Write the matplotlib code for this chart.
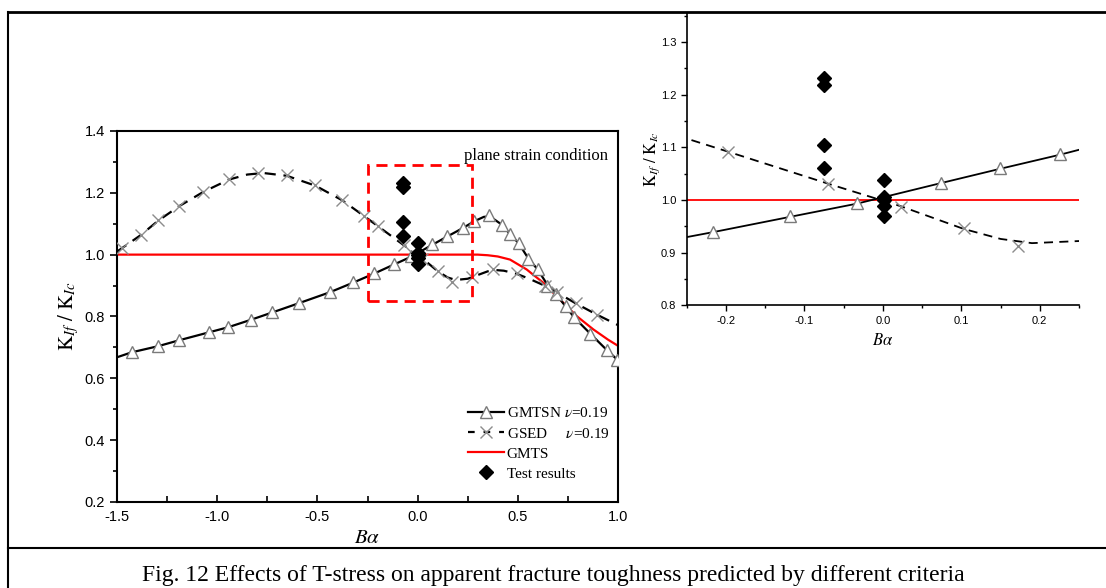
import matplotlib.pyplot as plt
from matplotlib.lines import Line2D
from matplotlib.patches import Rectangle
from matplotlib.ticker import MultipleLocator

plt.rcParams['mathtext.fontset'] = 'stix'
plt.rcParams['axes.unicode_minus'] = False

# GMTSN curve (solid) and its triangle markers
gmtsn_x = [-1.5, -1.427, -1.294, -1.19, -1.039, -0.946, -0.833, -0.725, -0.592, -0.439,
           -0.323, -0.216, -0.118, -0.033, 0.074, 0.149, 0.226, 0.283, 0.33, 0.36,
           0.42, 0.459, 0.505, 0.552, 0.599, 0.647, 0.689, 0.738, 0.781, 0.862, 0.943, 1.0]
gmtsn_y = [0.668, 0.684, 0.704, 0.723, 0.749, 0.765, 0.789, 0.813, 0.843, 0.878,
           0.909, 0.939, 0.968, 0.993, 1.032, 1.059, 1.086, 1.108, 1.122, 1.124,
           1.097, 1.068, 1.036, 0.988, 0.952, 0.903, 0.873, 0.833, 0.797, 0.744, 0.692, 0.658]
gmtsn_mx = [-1.427, -1.294, -1.19, -1.039, -0.946, -0.833, -0.725, -0.592, -0.439, -0.323,
            -0.216, -0.118, -0.033, 0.074, 0.149, 0.226, 0.283, 0.356, 0.42, 0.459,
            0.505, 0.552, 0.599, 0.647, 0.689, 0.738, 0.781, 0.862, 0.943, 0.995]
gmtsn_my = [0.686, 0.706, 0.725, 0.751, 0.765, 0.789, 0.815, 0.844, 0.878, 0.911,
            0.94, 0.969, 0.994, 1.033, 1.06, 1.087, 1.11, 1.128, 1.097, 1.068,
            1.038, 0.986, 0.952, 0.9, 0.873, 0.833, 0.797, 0.744, 0.692, 0.66]

# GSED curve (dashed) and its cross markers
gsed_x = [-1.5, -1.477, -1.382, -1.294, -1.189, -1.069, -0.94, -0.85, -0.77, -0.653,
          -0.51, -0.377, -0.27, -0.198, -0.07, 0.023, 0.103, 0.15, 0.19, 0.25,
          0.3, 0.35, 0.39, 0.43, 0.494, 0.56, 0.636, 0.694, 0.79, 0.894, 1.0]
gsed_y = [1.01, 1.02, 1.063, 1.11, 1.157, 1.203, 1.243, 1.259, 1.264, 1.255,
          1.223, 1.176, 1.126, 1.092, 1.031, 0.988, 0.945, 0.926, 0.918, 0.922,
          0.934, 0.946, 0.95, 0.948, 0.938, 0.921, 0.899, 0.878, 0.842, 0.806, 0.772]
gsed_mx = [-1.477, -1.382, -1.294, -1.189, -1.069, -0.94, -0.795, -0.653, -0.51, -0.377,
           -0.27, -0.198, -0.07, 0.023, 0.103, 0.172, 0.272, 0.375, 0.494, 0.636,
           0.694, 0.79, 0.894]
gsed_my = [1.022, 1.064, 1.113, 1.158, 1.204, 1.244, 1.265, 1.258, 1.224, 1.177,
           1.126, 1.091, 1.031, 0.987, 0.946, 0.912, 0.927, 0.955, 0.939, 0.9,
           0.878, 0.842, 0.806]

# GMTS curve (red)
gmts_x = [-1.5, 0.25, 0.3, 0.35, 0.4, 0.461, 0.544, 0.627, 0.71, 0.794, 0.877, 0.95, 1.0]
gmts_y = [1.0, 1.0, 1.0, 0.998, 0.994, 0.984, 0.952, 0.909, 0.855, 0.801, 0.758, 0.725, 0.705]

# test results
test_x = [-0.075, -0.075, -0.075, -0.075, 0.002, 0.002, 0.002, 0.002, 0.002]
test_y = [1.231, 1.218, 1.104, 1.06, 1.038, 1.005, 1.0, 0.988, 0.97]

# zoom window marked on main plot
box_x = [-0.25, 0.27]
box_y = [0.85, 1.29]

fig = plt.figure(figsize=(11.06, 5.88), dpi=100)

serif = 'Liberation Serif'
sans = 'Liberation Sans'
tri_kw = dict(marker='^', ms=9, mfc='white', mec='#7a7a7a', mew=1.0, ls='none')
x_kw = dict(marker='x', ms=9, mec='#8c8c8c', mew=1.0, ls='none')


def draw(ax, ms_scale=1.0, lw=1.6):
    ax.plot(gmts_x, gmts_y, color='red', lw=lw, zorder=2)
    ax.plot(gsed_x, gsed_y, color='black', lw=lw, ls=(0, (5, 3.5)), zorder=3)
    ax.plot(gmtsn_x, gmtsn_y, color='black', lw=lw, zorder=3)
    k = dict(tri_kw); k['ms'] *= ms_scale
    ax.plot(gmtsn_mx, gmtsn_my, zorder=4, **k)
    k = dict(x_kw); k['ms'] *= ms_scale
    ax.plot(gsed_mx, gsed_my, zorder=4, **k)
    ax.plot(test_x, test_y, ls='none', marker='D', ms=7 * ms_scale, color='black', zorder=5)


# main plot
ax = fig.add_axes([0.1058, 0.1463, 0.453, 0.631])
draw(ax)
ax.add_patch(Rectangle((box_x[0], box_y[0]), box_x[1] - box_x[0], box_y[1] - box_y[0],
                       fill=False, ec='red', lw=2, ls=(0, (4, 2.5)), zorder=6))
ax.set_xlim(-1.5, 1.0)
ax.set_ylim(0.2, 1.4)
ax.xaxis.set_major_locator(MultipleLocator(0.5))
ax.xaxis.set_minor_locator(MultipleLocator(0.25))
ax.yaxis.set_major_locator(MultipleLocator(0.2))
ax.yaxis.set_minor_locator(MultipleLocator(0.1))
ax.tick_params(axis='y', which='both', direction='out', labelsize=10.5, width=1.2)
ax.tick_params(axis='y', which='major', length=5)
ax.tick_params(axis='y', which='minor', length=3)
ax.tick_params(axis='x', which='both', direction='in', labelsize=10.5, width=1.2, pad=6)
ax.tick_params(axis='x', which='major', length=5)
ax.tick_params(axis='x', which='minor', length=4)
for lab in ax.get_xticklabels() + ax.get_yticklabels():
    lab.set_fontfamily(sans)
for s in ax.spines.values():
    s.set_linewidth(1.5)
ax.set_xlabel(r'$B\alpha$', fontsize=15, labelpad=2)
ax.set_ylabel(r'$\mathrm{K}_{If}\ /\ \mathrm{K}_{Ic}$', fontsize=15, labelpad=3)
ax.text(0.98, 0.955, 'plane strain condition', transform=ax.transAxes, ha='right', va='top',
        fontsize=12, family=serif)

handles = [
    Line2D([], [], color='black', lw=1.6, marker='^', ms=9, mfc='white', mec='#7a7a7a'),
    Line2D([], [], color='black', lw=1.6, ls=(0, (3, 4)), marker='x', ms=9, mec='#8c8c8c'),
    Line2D([], [], color='red', lw=1.6),
    Line2D([], [], ls='none', marker='D', ms=7, color='black'),
]
labels = [r'GMTSN $\nu$=0.19', r'GSED     $\nu$=0.19', 'GMTS', 'Test results']
ax.legend(handles, labels, loc='lower right', bbox_to_anchor=(1.01, 0.02), frameon=False,
          prop={'family': serif, 'size': 11}, handlelength=2.3, handletextpad=0.2,
          labelspacing=0.42)

# zoomed inset
ax2 = fig.add_axes([0.6209, 0.4808, 0.3547, 0.4971])
draw(ax2, ms_scale=1.0, lw=1.3)
ax2.set_xlim(-0.25, 0.25)
ax2.set_ylim(0.8, 1.355)
ax2.xaxis.set_major_locator(MultipleLocator(0.1))
ax2.xaxis.set_minor_locator(MultipleLocator(0.05))
ax2.yaxis.set_major_locator(MultipleLocator(0.1))
ax2.yaxis.set_minor_locator(MultipleLocator(0.05))
ax2.tick_params(which='both', direction='out', labelsize=8, width=1.0)
ax2.tick_params(which='major', length=4)
ax2.tick_params(which='minor', length=2.5)
for lab in ax2.get_xticklabels() + ax2.get_yticklabels():
    lab.set_fontfamily(sans)
ax2.spines['top'].set_visible(False)
ax2.spines['right'].set_visible(False)
for s in ('left', 'bottom'):
    ax2.spines[s].set_linewidth(1.2)
ax2.set_xlabel(r'$B\alpha$', fontsize=12, labelpad=4)
ax2.set_ylabel(r'$\mathrm{K}_{If}\ /\ \mathrm{K}_{Ic}$', fontsize=12, labelpad=-1)

# page frame and caption
fig.add_artist(Line2D([8 / 1106, 1.0], [1 - 12 / 588] * 2, transform=fig.transFigure,
                      color='black', lw=2))
fig.add_artist(Line2D([8 / 1106] * 2, [0.0, 1 - 12 / 588], transform=fig.transFigure,
                      color='black', lw=1.5))
fig.add_artist(Line2D([8 / 1106, 1.0], [1 - 548 / 588] * 2, transform=fig.transFigure,
                      color='black', lw=1.5))
fig.text(553 / 1106, 1 - 575 / 588,
         'Fig. 12 Effects of T-stress on apparent fracture toughness predicted by different criteria',
         ha='center', va='center', fontsize=17, family=serif)

fig.savefig('out.png', dpi=100)
